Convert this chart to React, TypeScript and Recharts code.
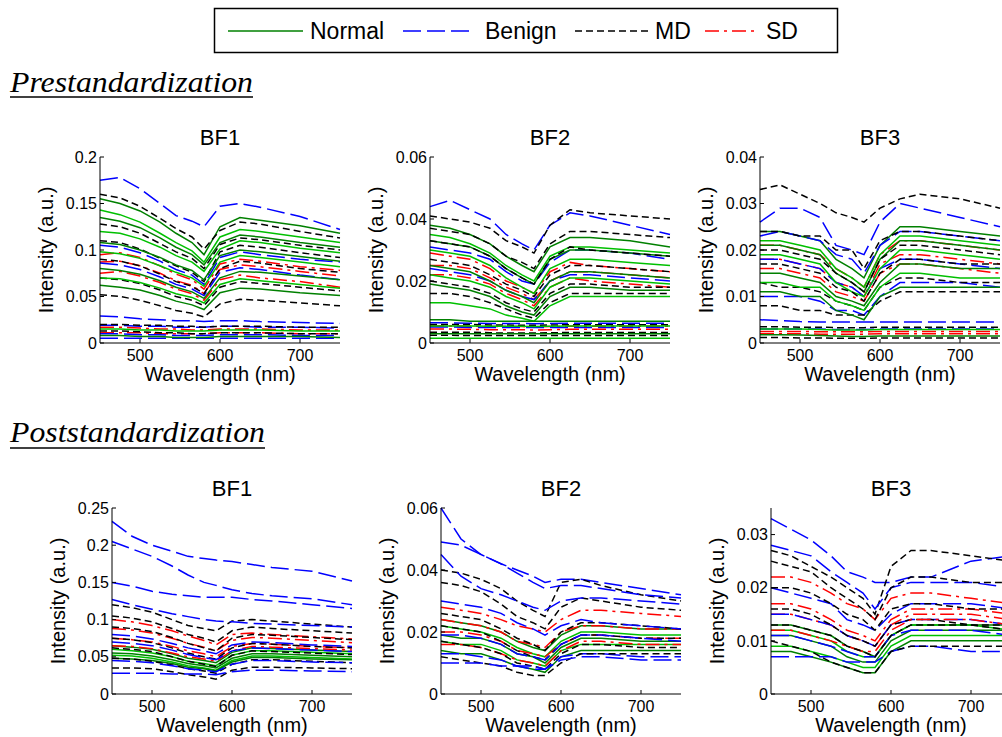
import React from "react";
import { LineChart, Line, XAxis, YAxis } from "recharts";

// wavelengths (nm) shared by every spectrum
const WL = [450, 475, 500, 525, 545, 565, 580, 600, 625, 650, 700, 750];
const X_TICKS = [500, 600, 700];

// ---- Prestandardization, BF1 ----
const pre1Normal = [
  [0.155, 0.15, 0.142, 0.13, 0.118, 0.108, 0.095, 0.125, 0.135, 0.132, 0.126, 0.118],
  [0.143, 0.138, 0.13, 0.118, 0.108, 0.099, 0.087, 0.114, 0.122, 0.12, 0.114, 0.108],
  [0.135, 0.131, 0.124, 0.113, 0.103, 0.095, 0.084, 0.108, 0.116, 0.114, 0.108, 0.103],
  [0.12, 0.118, 0.112, 0.103, 0.094, 0.087, 0.077, 0.101, 0.11, 0.108, 0.102, 0.097],
  [0.108, 0.106, 0.1, 0.092, 0.084, 0.078, 0.068, 0.094, 0.1, 0.098, 0.093, 0.088],
  [0.098, 0.096, 0.091, 0.083, 0.076, 0.07, 0.061, 0.087, 0.094, 0.092, 0.087, 0.082],
  [0.08, 0.078, 0.074, 0.067, 0.06, 0.055, 0.048, 0.07, 0.077, 0.076, 0.072, 0.068],
  [0.07, 0.069, 0.065, 0.059, 0.053, 0.049, 0.043, 0.063, 0.069, 0.067, 0.063, 0.059],
  [0.062, 0.06, 0.057, 0.051, 0.045, 0.041, 0.036, 0.054, 0.059, 0.058, 0.054, 0.051],
  [0.015, 0.015, 0.014, 0.014, 0.013, 0.013, 0.013, 0.014, 0.014, 0.014, 0.013, 0.013],
  [0.008, 0.008, 0.007, 0.007, 0.006, 0.006, 0.006, 0.007, 0.007, 0.007, 0.007, 0.006],
];
const pre1Benign = [
  [0.175, 0.178, 0.166, 0.15, 0.137, 0.131, 0.125, 0.147, 0.15, 0.146, 0.136, 0.122],
  [0.105, 0.103, 0.097, 0.088, 0.079, 0.073, 0.063, 0.092, 0.098, 0.095, 0.09, 0.087],
  [0.086, 0.084, 0.079, 0.071, 0.063, 0.058, 0.051, 0.076, 0.081, 0.079, 0.073, 0.068],
  [0.029, 0.028, 0.026, 0.025, 0.024, 0.024, 0.023, 0.024, 0.024, 0.023, 0.022, 0.021],
  [0.019, 0.019, 0.018, 0.018, 0.017, 0.017, 0.017, 0.018, 0.018, 0.017, 0.017, 0.016],
  [0.01, 0.01, 0.009, 0.009, 0.008, 0.008, 0.008, 0.009, 0.009, 0.009, 0.008, 0.008],
  [0.005, 0.005, 0.005, 0.005, 0.005, 0.005, 0.005, 0.005, 0.005, 0.005, 0.005, 0.005],
];
const pre1Md = [
  [0.16, 0.156, 0.147, 0.134, 0.123, 0.114, 0.101, 0.121, 0.13, 0.128, 0.12, 0.113],
  [0.128, 0.125, 0.118, 0.107, 0.098, 0.091, 0.08, 0.106, 0.113, 0.111, 0.105, 0.1],
  [0.11, 0.108, 0.101, 0.091, 0.083, 0.076, 0.066, 0.098, 0.105, 0.103, 0.097, 0.092],
  [0.09, 0.088, 0.083, 0.074, 0.066, 0.061, 0.053, 0.08, 0.088, 0.086, 0.08, 0.076],
  [0.07, 0.068, 0.064, 0.057, 0.05, 0.046, 0.04, 0.06, 0.066, 0.064, 0.06, 0.056],
  [0.052, 0.05, 0.046, 0.04, 0.035, 0.032, 0.028, 0.042, 0.047, 0.046, 0.043, 0.04],
  [0.02, 0.02, 0.019, 0.019, 0.018, 0.018, 0.017, 0.018, 0.018, 0.018, 0.017, 0.017],
  [0.013, 0.013, 0.012, 0.011, 0.011, 0.01, 0.01, 0.011, 0.011, 0.011, 0.01, 0.01],
];
const pre1Sd = [
  [0.095, 0.097, 0.092, 0.083, 0.074, 0.068, 0.058, 0.085, 0.09, 0.088, 0.082, 0.078],
  [0.087, 0.088, 0.083, 0.075, 0.067, 0.062, 0.053, 0.079, 0.084, 0.082, 0.077, 0.072],
  [0.075, 0.077, 0.072, 0.065, 0.058, 0.053, 0.046, 0.068, 0.073, 0.07, 0.066, 0.06],
  [0.017, 0.017, 0.016, 0.015, 0.015, 0.014, 0.014, 0.015, 0.015, 0.015, 0.014, 0.014],
  [0.011, 0.011, 0.011, 0.01, 0.01, 0.01, 0.01, 0.011, 0.011, 0.011, 0.01, 0.01],
];
const PRE1_TICKS = [0, 0.05, 0.1, 0.15, 0.2];

// ---- Prestandardization, BF2 ----
const pre2Normal = [
  [0.038, 0.037, 0.035, 0.032, 0.028, 0.025, 0.023, 0.031, 0.034, 0.034, 0.033, 0.031],
  [0.035, 0.034, 0.032, 0.029, 0.025, 0.022, 0.02, 0.028, 0.031, 0.031, 0.03, 0.029],
  [0.033, 0.032, 0.031, 0.028, 0.024, 0.021, 0.019, 0.027, 0.03, 0.03, 0.029, 0.028],
  [0.03, 0.029, 0.028, 0.025, 0.021, 0.018, 0.016, 0.024, 0.027, 0.027, 0.026, 0.025],
  [0.025, 0.024, 0.023, 0.02, 0.017, 0.015, 0.013, 0.02, 0.023, 0.023, 0.022, 0.021],
  [0.022, 0.021, 0.02, 0.018, 0.015, 0.013, 0.011, 0.018, 0.021, 0.021, 0.02, 0.019],
  [0.019, 0.018, 0.017, 0.015, 0.012, 0.01, 0.009, 0.015, 0.018, 0.018, 0.017, 0.017],
  [0.013, 0.013, 0.012, 0.011, 0.009, 0.008, 0.007, 0.012, 0.015, 0.015, 0.015, 0.015],
  [0.0075, 0.0075, 0.007, 0.007, 0.007, 0.007, 0.007, 0.007, 0.007, 0.007, 0.007, 0.007],
  [0.0055, 0.0055, 0.0055, 0.0054, 0.0054, 0.0054, 0.0053, 0.0054, 0.0055, 0.0055, 0.0055, 0.0055],
  [0.003, 0.003, 0.003, 0.003, 0.003, 0.003, 0.003, 0.003, 0.003, 0.003, 0.003, 0.003],
  [0.0015, 0.0015, 0.0015, 0.0015, 0.0015, 0.0015, 0.0015, 0.0015, 0.0015, 0.0015, 0.0015, 0.0015],
];
const pre2Benign = [
  [0.044, 0.046, 0.043, 0.04, 0.035, 0.032, 0.03, 0.038, 0.042, 0.041, 0.038, 0.035],
  [0.031, 0.03, 0.029, 0.027, 0.023, 0.02, 0.019, 0.026, 0.03, 0.03, 0.029, 0.027],
  [0.024, 0.023, 0.022, 0.02, 0.017, 0.015, 0.014, 0.02, 0.022, 0.022, 0.021, 0.02],
  [0.0065, 0.0065, 0.0064, 0.0063, 0.0063, 0.0063, 0.0062, 0.0063, 0.0064, 0.0064, 0.0064, 0.0064],
  [0.0052, 0.0052, 0.005, 0.005, 0.005, 0.005, 0.005, 0.005, 0.005, 0.005, 0.005, 0.005],
];
const pre2Md = [
  [0.041, 0.04, 0.039, 0.037, 0.033, 0.031, 0.029, 0.038, 0.043, 0.042, 0.041, 0.04],
  [0.037, 0.036, 0.035, 0.032, 0.028, 0.026, 0.024, 0.032, 0.036, 0.036, 0.035, 0.034],
  [0.033, 0.032, 0.031, 0.028, 0.024, 0.021, 0.019, 0.027, 0.031, 0.03, 0.029, 0.028],
  [0.027, 0.026, 0.025, 0.022, 0.019, 0.017, 0.015, 0.022, 0.025, 0.025, 0.024, 0.023],
  [0.02, 0.019, 0.018, 0.016, 0.013, 0.011, 0.01, 0.016, 0.019, 0.019, 0.018, 0.018],
  [0.016, 0.016, 0.015, 0.013, 0.011, 0.009, 0.008, 0.013, 0.016, 0.016, 0.016, 0.016],
  [0.006, 0.006, 0.006, 0.0058, 0.0058, 0.0057, 0.0057, 0.0058, 0.0059, 0.0059, 0.0059, 0.0059],
  [0.0035, 0.0035, 0.0035, 0.0033, 0.0032, 0.0032, 0.0032, 0.0033, 0.0034, 0.0034, 0.0034, 0.0034],
  [0.0025, 0.0025, 0.0024, 0.0024, 0.0024, 0.0024, 0.0024, 0.0024, 0.0024, 0.0024, 0.0024, 0.0024],
];
const pre2Sd = [
  [0.029, 0.028, 0.027, 0.024, 0.02, 0.018, 0.016, 0.023, 0.026, 0.025, 0.024, 0.023],
  [0.025, 0.025, 0.024, 0.021, 0.018, 0.016, 0.014, 0.02, 0.023, 0.023, 0.022, 0.021],
  [0.022, 0.022, 0.021, 0.019, 0.016, 0.014, 0.012, 0.018, 0.021, 0.02, 0.019, 0.018],
  [0.0055, 0.0055, 0.0054, 0.0053, 0.0053, 0.0053, 0.0052, 0.0053, 0.0054, 0.0054, 0.0054, 0.0054],
  [0.0045, 0.0045, 0.0044, 0.0043, 0.0043, 0.0043, 0.0042, 0.0043, 0.0044, 0.0044, 0.0044, 0.0044],
];
const PRE2_TICKS = [0, 0.02, 0.04, 0.06];

// ---- Prestandardization, BF3 ----
const pre3Normal = [
  [0.024, 0.024, 0.023, 0.022, 0.018, 0.016, 0.014, 0.021, 0.025, 0.025, 0.024, 0.023],
  [0.022, 0.022, 0.021, 0.02, 0.016, 0.014, 0.012, 0.019, 0.023, 0.023, 0.022, 0.021],
  [0.021, 0.021, 0.02, 0.019, 0.015, 0.013, 0.011, 0.018, 0.022, 0.022, 0.021, 0.02],
  [0.019, 0.019, 0.018, 0.017, 0.013, 0.011, 0.01, 0.016, 0.02, 0.02, 0.019, 0.018],
  [0.015, 0.015, 0.014, 0.013, 0.01, 0.009, 0.008, 0.013, 0.017, 0.017, 0.016, 0.016],
  [0.013, 0.013, 0.012, 0.012, 0.009, 0.008, 0.007, 0.012, 0.015, 0.015, 0.014, 0.014],
  [0.011, 0.011, 0.01, 0.01, 0.007, 0.006, 0.005, 0.01, 0.012, 0.012, 0.012, 0.012],
  [0.003, 0.003, 0.003, 0.0029, 0.0028, 0.0028, 0.0028, 0.0029, 0.0029, 0.0029, 0.0029, 0.0029],
  [0.0018, 0.0018, 0.0017, 0.0016, 0.0015, 0.0014, 0.0014, 0.0015, 0.0015, 0.0015, 0.0015, 0.0015],
];
const pre3Benign = [
  [0.026, 0.029, 0.029, 0.027, 0.021, 0.02, 0.019, 0.026, 0.03, 0.029, 0.027, 0.025],
  [0.023, 0.024, 0.023, 0.022, 0.019, 0.018, 0.015, 0.021, 0.024, 0.024, 0.023, 0.022],
  [0.018, 0.018, 0.017, 0.016, 0.013, 0.012, 0.01, 0.016, 0.018, 0.018, 0.017, 0.016],
  [0.01, 0.01, 0.01, 0.009, 0.007, 0.007, 0.006, 0.01, 0.013, 0.013, 0.013, 0.012],
  [0.005, 0.0048, 0.0046, 0.0045, 0.0045, 0.0045, 0.0045, 0.0045, 0.0045, 0.0045, 0.0045, 0.0045],
  [0.003, 0.003, 0.003, 0.003, 0.0029, 0.0029, 0.0029, 0.003, 0.003, 0.003, 0.003, 0.003],
];
const pre3Md = [
  [0.033, 0.034, 0.032, 0.03, 0.028, 0.027, 0.026, 0.029, 0.031, 0.032, 0.031, 0.029],
  [0.024, 0.024, 0.023, 0.023, 0.02, 0.02, 0.016, 0.022, 0.024, 0.024, 0.023, 0.022],
  [0.02, 0.02, 0.019, 0.018, 0.015, 0.013, 0.011, 0.018, 0.021, 0.021, 0.02, 0.019],
  [0.017, 0.017, 0.016, 0.015, 0.012, 0.011, 0.009, 0.015, 0.018, 0.018, 0.017, 0.017],
  [0.013, 0.012, 0.012, 0.011, 0.009, 0.008, 0.007, 0.012, 0.014, 0.014, 0.013, 0.013],
  [0.008, 0.008, 0.007, 0.007, 0.006, 0.006, 0.006, 0.009, 0.011, 0.011, 0.011, 0.011],
  [0.0035, 0.0035, 0.0034, 0.0034, 0.0033, 0.0033, 0.0033, 0.0034, 0.0034, 0.0034, 0.0034, 0.0034],
  [0.0012, 0.0012, 0.0011, 0.0011, 0.001, 0.001, 0.001, 0.0011, 0.0011, 0.0011, 0.0011, 0.0011],
];
const pre3Sd = [
  [0.021, 0.021, 0.02, 0.019, 0.016, 0.014, 0.012, 0.019, 0.022, 0.022, 0.021, 0.02],
  [0.018, 0.018, 0.017, 0.016, 0.013, 0.012, 0.01, 0.017, 0.019, 0.019, 0.018, 0.017],
  [0.016, 0.016, 0.015, 0.014, 0.011, 0.01, 0.009, 0.015, 0.017, 0.017, 0.016, 0.015],
  [0.0025, 0.0025, 0.0025, 0.0024, 0.0024, 0.0024, 0.0024, 0.0025, 0.0025, 0.0025, 0.0025, 0.0025],
  [0.002, 0.002, 0.002, 0.0019, 0.0019, 0.0019, 0.0019, 0.002, 0.002, 0.002, 0.002, 0.002],
];
const PRE3_TICKS = [0, 0.01, 0.02, 0.03, 0.04];

// ---- Poststandardization, BF1 ----
const post1Normal = [
  [0.065, 0.063, 0.06, 0.054, 0.048, 0.045, 0.042, 0.056, 0.062, 0.061, 0.059, 0.057],
  [0.06, 0.058, 0.055, 0.05, 0.044, 0.041, 0.038, 0.052, 0.058, 0.058, 0.056, 0.054],
  [0.055, 0.054, 0.051, 0.046, 0.041, 0.038, 0.035, 0.048, 0.054, 0.054, 0.052, 0.05],
  [0.052, 0.051, 0.048, 0.043, 0.038, 0.035, 0.032, 0.045, 0.051, 0.051, 0.049, 0.047],
  [0.048, 0.047, 0.045, 0.041, 0.036, 0.034, 0.031, 0.043, 0.049, 0.049, 0.047, 0.046],
];
const post1Benign = [
  [0.232, 0.212, 0.2, 0.192, 0.185, 0.182, 0.18, 0.178, 0.174, 0.17, 0.165, 0.152],
  [0.205, 0.195, 0.185, 0.172, 0.16, 0.15, 0.146, 0.14, 0.135, 0.132, 0.128, 0.12],
  [0.15, 0.145, 0.138, 0.134, 0.132, 0.13, 0.13, 0.13, 0.127, 0.125, 0.12, 0.115],
  [0.127, 0.12, 0.114, 0.108, 0.104, 0.1, 0.098, 0.097, 0.095, 0.094, 0.092, 0.09],
  [0.08, 0.078, 0.074, 0.068, 0.062, 0.058, 0.054, 0.066, 0.07, 0.069, 0.066, 0.064],
  [0.07, 0.068, 0.065, 0.059, 0.053, 0.049, 0.046, 0.058, 0.062, 0.061, 0.059, 0.057],
  [0.045, 0.044, 0.042, 0.038, 0.034, 0.032, 0.03, 0.04, 0.045, 0.045, 0.043, 0.042],
  [0.028, 0.028, 0.028, 0.027, 0.027, 0.027, 0.026, 0.03, 0.032, 0.032, 0.031, 0.03],
];
const post1Md = [
  [0.12, 0.116, 0.11, 0.1, 0.092, 0.088, 0.085, 0.098, 0.1, 0.098, 0.094, 0.09],
  [0.105, 0.102, 0.097, 0.088, 0.08, 0.075, 0.07, 0.085, 0.09, 0.088, 0.085, 0.082],
  [0.09, 0.088, 0.084, 0.076, 0.068, 0.062, 0.058, 0.075, 0.08, 0.079, 0.076, 0.073],
  [0.075, 0.073, 0.069, 0.062, 0.055, 0.05, 0.047, 0.062, 0.068, 0.067, 0.064, 0.062],
  [0.062, 0.06, 0.057, 0.05, 0.044, 0.04, 0.037, 0.052, 0.058, 0.057, 0.055, 0.053],
  [0.048, 0.047, 0.044, 0.039, 0.034, 0.031, 0.028, 0.04, 0.046, 0.046, 0.044, 0.042],
  [0.035, 0.035, 0.034, 0.03, 0.026, 0.023, 0.02, 0.032, 0.036, 0.036, 0.035, 0.034],
];
const post1Sd = [
  [0.1, 0.097, 0.092, 0.085, 0.078, 0.072, 0.066, 0.08, 0.082, 0.08, 0.077, 0.074],
  [0.088, 0.086, 0.082, 0.075, 0.068, 0.063, 0.058, 0.072, 0.076, 0.075, 0.072, 0.069],
  [0.075, 0.073, 0.07, 0.064, 0.058, 0.054, 0.05, 0.064, 0.068, 0.067, 0.064, 0.062],
  [0.065, 0.064, 0.061, 0.055, 0.05, 0.047, 0.044, 0.058, 0.064, 0.063, 0.061, 0.059],
];
const POST1_TICKS = [0, 0.05, 0.1, 0.15, 0.2, 0.25];

// ---- Poststandardization, BF2 ----
const post2Normal = [
  [0.024, 0.023, 0.022, 0.02, 0.017, 0.015, 0.014, 0.019, 0.022, 0.022, 0.021, 0.021],
  [0.022, 0.021, 0.02, 0.018, 0.015, 0.013, 0.012, 0.017, 0.02, 0.02, 0.019, 0.019],
  [0.019, 0.018, 0.018, 0.016, 0.013, 0.012, 0.01, 0.015, 0.018, 0.018, 0.017, 0.017],
  [0.017, 0.016, 0.016, 0.014, 0.011, 0.01, 0.009, 0.014, 0.016, 0.016, 0.016, 0.016],
  [0.014, 0.013, 0.013, 0.011, 0.009, 0.008, 0.007, 0.012, 0.014, 0.014, 0.014, 0.014],
];
const post2Benign = [
  [0.06, 0.05, 0.045, 0.042, 0.04, 0.038, 0.036, 0.037, 0.037, 0.036, 0.034, 0.032],
  [0.049, 0.048, 0.045, 0.042, 0.039, 0.036, 0.034, 0.035, 0.035, 0.034, 0.032, 0.031],
  [0.045, 0.038, 0.034, 0.032, 0.03, 0.028, 0.027, 0.03, 0.031, 0.031, 0.03, 0.029],
  [0.03, 0.029, 0.028, 0.026, 0.023, 0.021, 0.019, 0.022, 0.024, 0.023, 0.022, 0.021],
  [0.019, 0.019, 0.018, 0.016, 0.013, 0.012, 0.011, 0.016, 0.019, 0.019, 0.018, 0.017],
  [0.013, 0.013, 0.012, 0.011, 0.009, 0.008, 0.008, 0.012, 0.013, 0.013, 0.012, 0.012],
  [0.01, 0.01, 0.01, 0.009, 0.009, 0.009, 0.008, 0.011, 0.012, 0.012, 0.011, 0.011],
];
const post2Md = [
  [0.04, 0.039, 0.037, 0.034, 0.03, 0.027, 0.025, 0.036, 0.037, 0.035, 0.032, 0.03],
  [0.036, 0.035, 0.033, 0.029, 0.025, 0.023, 0.021, 0.028, 0.031, 0.03, 0.028, 0.027],
  [0.026, 0.025, 0.024, 0.021, 0.018, 0.016, 0.014, 0.02, 0.023, 0.023, 0.022, 0.021],
  [0.022, 0.021, 0.02, 0.017, 0.014, 0.012, 0.011, 0.016, 0.019, 0.019, 0.018, 0.018],
  [0.017, 0.016, 0.015, 0.013, 0.01, 0.009, 0.008, 0.013, 0.016, 0.016, 0.015, 0.015],
  [0.012, 0.011, 0.01, 0.009, 0.007, 0.006, 0.006, 0.01, 0.013, 0.013, 0.013, 0.013],
];
const post2Sd = [
  [0.028, 0.027, 0.026, 0.024, 0.022, 0.021, 0.02, 0.024, 0.027, 0.027, 0.026, 0.025],
  [0.024, 0.023, 0.022, 0.02, 0.017, 0.016, 0.015, 0.02, 0.022, 0.022, 0.021, 0.021],
  [0.02, 0.02, 0.019, 0.017, 0.014, 0.013, 0.012, 0.016, 0.019, 0.019, 0.018, 0.018],
  [0.016, 0.016, 0.015, 0.013, 0.011, 0.01, 0.009, 0.014, 0.017, 0.017, 0.016, 0.016],
];
const POST2_TICKS = [0, 0.02, 0.04, 0.06];

// ---- Poststandardization, BF3 ----
const post3Normal = [
  [0.013, 0.013, 0.012, 0.011, 0.009, 0.008, 0.007, 0.011, 0.013, 0.013, 0.013, 0.013],
  [0.012, 0.012, 0.011, 0.01, 0.008, 0.007, 0.007, 0.011, 0.013, 0.013, 0.013, 0.012],
  [0.011, 0.011, 0.01, 0.009, 0.007, 0.006, 0.006, 0.01, 0.012, 0.012, 0.012, 0.012],
  [0.009, 0.009, 0.008, 0.007, 0.006, 0.005, 0.005, 0.009, 0.011, 0.011, 0.011, 0.011],
  [0.008, 0.008, 0.007, 0.006, 0.005, 0.004, 0.004, 0.008, 0.01, 0.01, 0.01, 0.01],
];
const post3Benign = [
  [0.033, 0.031, 0.029, 0.026, 0.023, 0.022, 0.021, 0.021, 0.022, 0.022, 0.025, 0.026],
  [0.028, 0.027, 0.026, 0.023, 0.021, 0.019, 0.016, 0.02, 0.021, 0.021, 0.021, 0.02],
  [0.02, 0.019, 0.018, 0.017, 0.014, 0.013, 0.012, 0.015, 0.017, 0.017, 0.017, 0.016],
  [0.015, 0.015, 0.014, 0.013, 0.011, 0.01, 0.009, 0.013, 0.014, 0.014, 0.014, 0.013],
  [0.011, 0.011, 0.01, 0.009, 0.008, 0.007, 0.007, 0.011, 0.012, 0.012, 0.012, 0.011],
  [0.007, 0.007, 0.007, 0.007, 0.006, 0.006, 0.006, 0.008, 0.009, 0.009, 0.008, 0.008],
];
const post3Md = [
  [0.027, 0.026, 0.024, 0.022, 0.02, 0.018, 0.015, 0.024, 0.027, 0.027, 0.026, 0.025],
  [0.025, 0.024, 0.023, 0.02, 0.018, 0.016, 0.014, 0.02, 0.022, 0.022, 0.021, 0.021],
  [0.02, 0.02, 0.019, 0.017, 0.015, 0.014, 0.012, 0.016, 0.017, 0.017, 0.016, 0.016],
  [0.016, 0.016, 0.015, 0.013, 0.011, 0.01, 0.009, 0.013, 0.014, 0.014, 0.013, 0.013],
  [0.013, 0.013, 0.012, 0.011, 0.009, 0.008, 0.007, 0.011, 0.013, 0.013, 0.013, 0.012],
  [0.01, 0.009, 0.008, 0.006, 0.005, 0.004, 0.004, 0.008, 0.009, 0.009, 0.009, 0.009],
];
const post3Sd = [
  [0.022, 0.022, 0.021, 0.019, 0.017, 0.016, 0.014, 0.018, 0.019, 0.019, 0.018, 0.017],
  [0.017, 0.017, 0.016, 0.014, 0.012, 0.011, 0.01, 0.014, 0.016, 0.016, 0.016, 0.015],
  [0.015, 0.015, 0.014, 0.013, 0.011, 0.01, 0.009, 0.013, 0.015, 0.015, 0.015, 0.014],
  [0.012, 0.012, 0.011, 0.01, 0.009, 0.008, 0.008, 0.012, 0.014, 0.014, 0.014, 0.013],
];
const POST3_TICKS = [0, 0.01, 0.02, 0.03];

const CLASSES = ["Normal", "Benign", "MD", "SD"];
const STYLE: Record<string, { color: string; dash?: string }> = {
  Normal: { color: "#008000" },
  Benign: { color: "#0000ff", dash: "18 6" },
  MD: { color: "#000000", dash: "7 4" },
  SD: { color: "#ff0000", dash: "14 5 3 5" },
};

const FONT = "'Liberation Sans', Arial, sans-serif";

const panels = [
  { title: "BF1", left: 100, top: 157, yMax: 0.2, ticks: PRE1_TICKS, groups: [pre1Normal, pre1Benign, pre1Md, pre1Sd] },
  { title: "BF2", left: 430, top: 157, yMax: 0.06, ticks: PRE2_TICKS, groups: [pre2Normal, pre2Benign, pre2Md, pre2Sd] },
  { title: "BF3", left: 760, top: 157, yMax: 0.04, ticks: PRE3_TICKS, groups: [pre3Normal, pre3Benign, pre3Md, pre3Sd] },
  { title: "BF1", left: 112, top: 508, yMax: 0.25, ticks: POST1_TICKS, groups: [post1Normal, post1Benign, post1Md, post1Sd] },
  { title: "BF2", left: 441, top: 508, yMax: 0.06, ticks: POST2_TICKS, groups: [post2Normal, post2Benign, post2Md, post2Sd] },
  { title: "BF3", left: 771, top: 508, yMax: 0.035, ticks: POST3_TICKS, groups: [post3Normal, post3Benign, post3Md, post3Sd] },
];

const PLOT_W = 240;
const PLOT_H = 186;

const fmt = (v: number) => String(+v.toFixed(3));
const blank = () => "";

function Panel({ p }: { p: (typeof panels)[number] }) {
  const tick = { fontSize: 16, fill: "#000", fontFamily: FONT };
  // draw the classes interleaved, as the original overlays them
  const lines: { key: string; cls: string; i: number; c: number[] }[] = [];
  const maxLen = Math.max(...p.groups.map((g) => g.length));
  for (let i = 0; i < maxLen; i++) {
    p.groups.forEach((g, gi) => {
      if (g[i]) lines.push({ key: `${gi}-${i}`, cls: CLASSES[gi], i, c: g[i] });
    });
  }
  return (
    <div style={{ position: "absolute", left: p.left - 70, top: p.top - 10 }}>
      <LineChart width={320} height={236} margin={{ top: 10, right: 10, bottom: 0, left: 0 }}>
        <XAxis xAxisId="b" type="number" dataKey="x" domain={[450, 750]} ticks={X_TICKS} interval={0}
          height={40} tickSize={-4} tickMargin={11} tick={tick} stroke="#000" />
        <XAxis xAxisId="t" orientation="top" type="number" dataKey="x" domain={[450, 750]} ticks={X_TICKS}
          interval={0} height={0} tickSize={-4} tickFormatter={blank} stroke="#000" />
        <YAxis yAxisId="l" type="number" domain={[0, p.yMax]} ticks={p.ticks} interval={0} width={70}
          tickSize={-4} tickMargin={7} tick={tick} tickFormatter={fmt} stroke="#000" />
        <YAxis yAxisId="r" orientation="right" type="number" domain={[0, p.yMax]} ticks={p.ticks} interval={0}
          width={0} tickSize={-4} tickFormatter={blank} stroke="#000" />
        {lines.map((l) => {
          const st = STYLE[l.cls];
          const color = l.cls === "Normal" && l.i % 2 === 1 ? "#00c000" : st.color;
          return (
            <Line key={l.key} xAxisId="b" yAxisId="l" type="linear"
              data={WL.map((x, k) => ({ x, y: l.c[k] }))} dataKey="y"
              stroke={color} strokeWidth={1.5} strokeDasharray={st.dash}
              dot={false} activeDot={false} isAnimationActive={false} />
          );
        })}
      </LineChart>
    </div>
  );
}

export default function App() {
  return (
    <div style={{ position: "absolute", left: 0, top: 0, width: 1002, height: 737, overflow: "hidden", background: "#fff" }}>
      {panels.map((p, i) => (
        <Panel key={i} p={p} />
      ))}
      <svg width={1002} height={737} style={{ position: "absolute", left: 0, top: 0, pointerEvents: "none" }}>
        <rect x={214.5} y={8.5} width={623} height={44} fill="none" stroke="#000" strokeWidth={1.5} />
        {[
          { x1: 228, x2: 303, tx: 310 },
          { x1: 403, x2: 470, tx: 485 },
          { x1: 575, x2: 648, tx: 655 },
          { x1: 705, x2: 757, tx: 766 },
        ].map((l, i) => (
          <g key={i}>
            <line x1={l.x1} x2={l.x2} y1={31} y2={31} stroke={STYLE[CLASSES[i]].color}
              strokeWidth={1.5} strokeDasharray={STYLE[CLASSES[i]].dash} />
            <text x={l.tx} y={39} fontSize={23} fontFamily={FONT}>{CLASSES[i]}</text>
          </g>
        ))}
        <text x={10} y={92} fontSize={30} fontStyle="italic" fontFamily="'Liberation Serif', serif"
          textLength={243} lengthAdjust="spacingAndGlyphs">Prestandardization</text>
        <line x1={10} x2={253} y1={97} y2={97} stroke="#000" strokeWidth={1.5} />
        <text x={10} y={442} fontSize={30} fontStyle="italic" fontFamily="'Liberation Serif', serif"
          textLength={255} lengthAdjust="spacingAndGlyphs">Poststandardization</text>
        <line x1={10} x2={265} y1={448} y2={448} stroke="#000" strokeWidth={1.5} />
        {panels.map((p, i) => {
          const cx = p.left + PLOT_W / 2;
          const cy = p.top + PLOT_H / 2;
          return (
            <g key={i} fontFamily={FONT}>
              <text x={cx} y={p.top - 12} fontSize={22} textAnchor="middle">{p.title}</text>
              <text x={cx} y={p.top + PLOT_H + 38} fontSize={20} textAnchor="middle">Wavelength (nm)</text>
              <text transform={`translate(${p.left - 54}, ${cy}) rotate(-90)`} fontSize={20}
                textAnchor="middle" dominantBaseline="central">Intensity (a.u.)</text>
            </g>
          );
        })}
      </svg>
    </div>
  );
}
